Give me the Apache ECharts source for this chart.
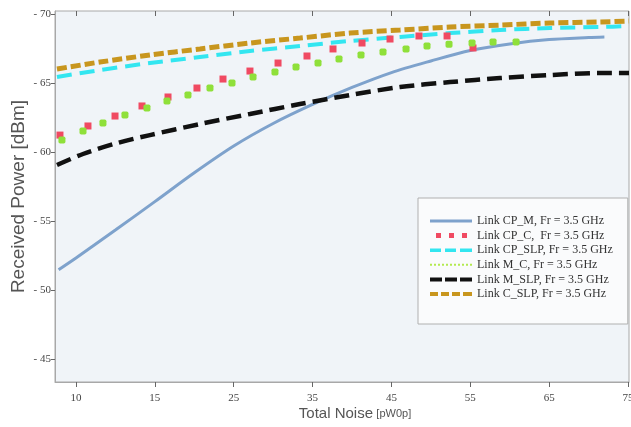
<!DOCTYPE html>
<html>
<head>
<meta charset="utf-8">
<script src="https://cdn.jsdelivr.net/npm/echarts@6/dist/echarts.min.js"></script>
<style>html,body{margin:0;padding:0;background:#fff}#c{width:631px;height:427px}</style>
</head>
<body>
<div id="c"></div>
<script>
// Tick positions on the x axis and their printed labels
const xTickValues = [5, 15, 25, 35, 45, 55, 65, 75];
const xTickLabels = ['10', '15', '25', '35', '45', '55', '65', '75'];
const yTickValues = [-70, -65, -60, -55, -50, -45];

const seriesNames = [
  'Link CP_M, Fr = 3.5 GHz',
  'Link CP_C,  Fr = 3.5 GHz',
  'Link CP_SLP, Fr = 3.5 GHz',
  'Link M_C, Fr = 3.5 GHz',
  'Link M_SLP, Fr = 3.5 GHz',
  'Link C_SLP, Fr = 3.5 GHz'
];

// Link CP_M
const cpM_x = [2.8, 5, 10, 15, 20, 25, 30, 35, 40, 45, 50, 55, 60, 65, 70, 72];
const cpM_y = [-51.5, -52.35, -54.37, -56.43, -58.52, -60.46, -62.09, -63.47, -64.70, -65.78, -66.62, -67.38, -67.85, -68.17, -68.32, -68.36];
// Link CP_C
const cpC_x = [2.97, 6.52, 9.95, 13.37, 16.67, 20.34, 23.64, 27.06, 30.62, 34.29, 37.59, 41.27, 44.82, 48.49, 52.05, 55.34];
const cpC_y = [-61.25, -61.91, -62.63, -63.36, -64.01, -64.66, -65.31, -65.89, -66.47, -66.98, -67.49, -67.92, -68.21, -68.43, -68.43, -67.56];
// Link CP_SLP
const cpSLP_x = [2.59, 8.04, 14.38, 20.72, 27.06, 33.40, 39.75, 46.09, 52.43, 58.77, 65.11, 71.45, 75.12];
const cpSLP_y = [-65.46, -65.96, -66.47, -66.91, -67.34, -67.70, -68.07, -68.36, -68.64, -68.86, -69.01, -69.08, -69.15];
// Link M_C
const mC_x = [3.22, 5.89, 8.42, 11.21, 14.00, 16.54, 19.20, 21.99, 24.78, 27.45, 30.23, 32.90, 35.69, 38.35, 41.14, 43.93, 46.85, 49.51, 52.30, 55.22, 57.88, 60.80];
const mC_y = [-60.89, -61.54, -62.12, -62.70, -63.21, -63.72, -64.15, -64.66, -65.02, -65.46, -65.82, -66.18, -66.47, -66.76, -67.05, -67.27, -67.49, -67.70, -67.84, -67.92, -67.99, -67.99];
// Link M_SLP
const mSLP_x = [2.59, 5.89, 10.20, 14.38, 20.72, 27.06, 33.40, 39.75, 46.09, 52.43, 58.77, 65.11, 71.45, 75.12];
const mSLP_y = [-59.08, -59.88, -60.67, -61.25, -62.05, -62.78, -63.50, -64.15, -64.73, -65.09, -65.38, -65.60, -65.75, -65.75];
// Link C_SLP
const cSLP_x = [2.59, 8.04, 14.38, 20.72, 27.06, 33.40, 39.75, 46.09, 52.43, 58.77, 65.11, 71.45, 75.12];
const cSLP_y = [-66.04, -66.54, -67.05, -67.49, -67.92, -68.28, -68.64, -68.86, -69.08, -69.22, -69.37, -69.44, -69.51];

const zip = (xs, ys) => xs.map((x, i) => [x, ys[i]]);

const chart = echarts.init(document.getElementById('c'), null, {renderer: 'canvas'});
const serif = 'Liberation Serif';
const sans = 'Liberation Sans';

const colors = ['#7ea2cc', '#f04a62', '#33e6f0', '#8fe03a', '#111111', '#c8961e'];

const xAxisBase = {
  type: 'value', min: 2.34, max: 75.12,
  splitLine: {show: false}
};

// legend icon shapes (42 px wide)
const icons = [
  'path://M0,0h42v3h-42z',
  'path://M6,0h5v5h-5z M19,0h5v5h-5z M32,0h5v5h-5z M0,0 M42,5',
  'path://M0,0h11v3.5h-11z M15,0h11v3.5h-11z M30,0h12v3.5h-12z',
  'path://M0,0h2v2h-2z M4,0h2v2h-2z M8,0h2v2h-2z M12,0h2v2h-2z M16,0h2v2h-2z M20,0h2v2h-2z M24,0h2v2h-2z M28,0h2v2h-2z M32,0h2v2h-2z M36,0h2v2h-2z M40,0h2v2h-2z',
  'path://M0,0h12v4h-12z M15,0h12v4h-12z M30,0h12v4h-12z',
  'path://M0,0h8v4h-8z M11,0h8v4h-8z M22,0h8v4h-8z M33,0h9v4h-9z'
];
const legendColors = ['#7ea2cc', '#f04a62', '#33e6f0', '#b4ea50', '#111111', '#c8961e'];

chart.setOption({
  animation: false,
  backgroundColor: '#ffffff',
  grid: {left: 55, top: 11, right: 2, bottom: 45, show: true, outerBoundsMode: 'none', containLabel: false,
         backgroundColor: '#f0f4f8', borderColor: '#a8a8a8', borderWidth: 1},
  xAxis: [
    Object.assign({}, xAxisBase, {
      position: 'bottom',
      name: '{a|Total Noise} {b|[pW0p]}',
      nameLocation: 'middle', nameGap: 24, nameMoveOverlap: false,
      nameTextStyle: {padding: [0, 0, 0, 26], rich: {
        a: {fontFamily: sans, fontSize: 15, color: '#555'},
        b: {fontFamily: sans, fontSize: 11, color: '#555'}
      }},
      axisLine: {show: true, lineStyle: {color: '#a8a8a8'}},
      axisTick: {show: true, inside: false, length: 5, customValues: xTickValues, lineStyle: {color: '#666'}},
      axisLabel: {customValues: xTickValues, margin: 11, fontFamily: serif, fontSize: 11, color: '#444',
        formatter: v => xTickLabels[xTickValues.indexOf(v)] || ''}
    }),
    Object.assign({}, xAxisBase, {
      position: 'top',
      axisLine: {show: false},
      axisTick: {show: true, inside: true, length: 5, customValues: xTickValues, lineStyle: {color: '#666'}},
      axisLabel: {show: false}
    })
  ],
  yAxis: {
    type: 'value', inverse: true, min: -70.24, max: -43.36,
    name: 'Received Power [dBm]', nameLocation: 'middle', nameGap: 27, nameMoveOverlap: false,
    nameTextStyle: {fontFamily: sans, fontSize: 19, color: '#555'},
    splitLine: {show: false},
    axisLine: {show: true, lineStyle: {color: '#a8a8a8'}},
    axisTick: {show: true, length: 4, customValues: yTickValues, lineStyle: {color: '#666'}},
    axisLabel: {customValues: yTickValues, margin: 4, fontFamily: serif, fontSize: 11, color: '#444',
      formatter: v => '- ' + Math.abs(v)}
  },
  legend: {
    orient: 'vertical', left: 418, top: 198,
    padding: [17, 15, 24, 12],
    itemWidth: 42, itemHeight: 12, itemGap: 2.6,
    backgroundColor: '#fafbfc', borderColor: '#b0b0b0', borderWidth: 1,
    textStyle: {fontFamily: serif, fontSize: 12, color: '#333'},
    data: seriesNames.map((n, i) => ({name: n, icon: icons[i], itemStyle: {color: legendColors[i], borderWidth: 0}}))
  },
  series: [
    {name: seriesNames[0], type: 'line', data: zip(cpM_x, cpM_y), smooth: 0.3, symbol: 'none',
     color: colors[0], lineStyle: {width: 3, color: colors[0]}},
    {name: seriesNames[1], type: 'line', data: zip(cpC_x, cpC_y), symbol: 'rect', symbolSize: 7, showSymbol: true,
     color: colors[1], lineStyle: {width: 0, opacity: 0}, itemStyle: {color: colors[1]}},
    {name: seriesNames[2], type: 'line', data: zip(cpSLP_x, cpSLP_y), smooth: 0.3, symbol: 'none',
     color: colors[2], lineStyle: {width: 4, color: colors[2], type: [15, 8], cap: 'butt'}},
    {name: seriesNames[3], type: 'line', data: zip(mC_x, mC_y), symbol: 'roundRect', symbolSize: 7, showSymbol: true,
     color: colors[3], lineStyle: {width: 0, opacity: 0}, itemStyle: {color: colors[3]}},
    {name: seriesNames[4], type: 'line', data: zip(mSLP_x, mSLP_y), smooth: 0.3, symbol: 'none',
     color: colors[4], lineStyle: {width: 4.5, color: colors[4], type: [15, 7], cap: 'butt'}},
    {name: seriesNames[5], type: 'line', data: zip(cSLP_x, cSLP_y), smooth: 0.3, symbol: 'none',
     color: colors[5], lineStyle: {width: 5, color: colors[5], type: [10, 4], cap: 'butt'}}
  ]
});
</script>
</body>
</html>
